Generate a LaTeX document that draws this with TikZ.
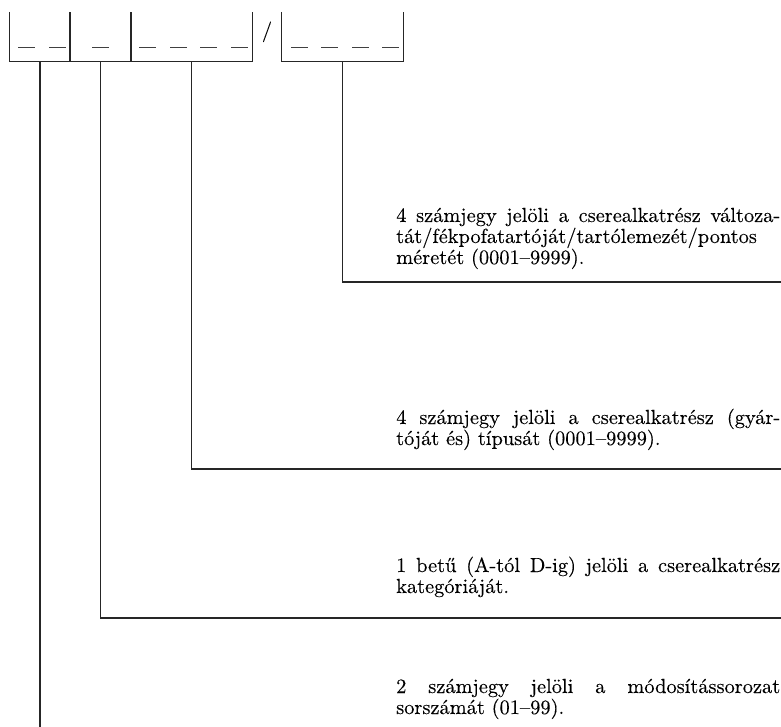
\documentclass[tikz,border=0pt]{standalone}
\usepackage{fontspec}
\setmainfont{lmroman10-regular.otf}[FakeBold=0.2]
\usepackage{tikz}
\usetikzlibrary{positioning}

\begin{document}
\begin{tikzpicture}[
  x=1pt,y=-1pt,
  font=\fontsize{20.4}{21}\selectfont,
  slotbox/.style={minimum height=49pt,inner sep=0pt},
  boxline/.style={line width=1.3pt,black!85},
  dashmark/.style={line width=1pt,black!75},
  leader/.style={line width=1.3pt,black!85},
  note/.style={anchor=base west,text width=384pt,align=justify,inner sep=0pt}
]
\useasboundingbox (0,0) rectangle (781,727);

% Code field: open boxes with blank places.
\node[slotbox,minimum width=61pt] (b1) at (40,36.5) {};
\node[slotbox,minimum width=61pt] (b2) at (100.5,36.5) {};
\node[slotbox,minimum width=121pt] (b3) at (191.5,36.5) {};
\node[slotbox,minimum width=121pt] (b4) at (342.5,36.5) {};
\foreach \b in {b1,b2,b3,b4}
  \draw[boxline] (\b.north west) |- (\b.south east) -- (\b.north east);
\node[anchor=base,inner sep=0pt] (sl) at (267,37) {/};
\foreach \x in {18,49,92,139,170,200,231,291,321,352,382}
  \draw[dashmark] (\x,48) -- ++(16.5,0);

% Explanations, bottom to top of the leaders.
\node[note] (t4) at (396,222) {4 számjegy jelöli a cserealkatrész változa-\linebreak
  tát/fékpofatartóját/tartólemezét/pontos\\méretét (0001--9999).};
\node[note] (t3) at (396,424) {4 számjegy jelöli a cserealkatrész (gyár-\linebreak
  tóját és) típusát (0001--9999).};
\node[note] (t2) at (396,572) {1 betű (A-tól D-ig) jelöli a cserealkatrész\linebreak
  kategóriáját.};
\node[note] (t1) at (396,693) {2 számjegy jelöli a módosítássorozat\linebreak
  sorszámát (01--99).};

\coordinate (r4) at (781,282);
\coordinate (r3) at (781,469);
\coordinate (r2) at (781,618);
\coordinate (r1) at (40,727);
\draw[leader] (b4.south) |- (r4);
\draw[leader] (b3.south) |- (r3);
\draw[leader] (b2.south) |- (r2);
\draw[leader] (b1.south) -- (r1);
\end{tikzpicture}
\end{document}
